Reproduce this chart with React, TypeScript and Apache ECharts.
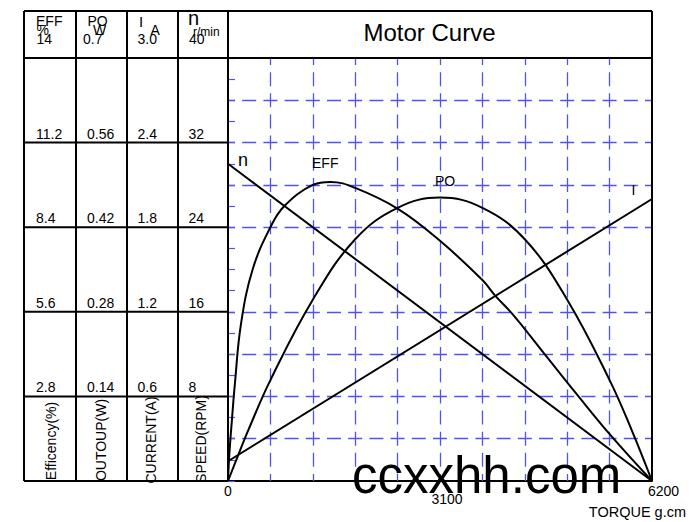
import React, { useEffect, useRef } from 'react';
import * as echarts from 'echarts';

// ---- data ----
const torqueMin = 0;
const torqueMax = 6200;
const torqueStep = 620;
const xLabelValues = [0, 3100, 6200];

const speedMax = 40;
const effMax = 14;
const poMax = 0.7;
const curMax = 3.0;

// tick labels shown in the left table (top to bottom)
const effTicks = ['11.2', '8.4', '5.6', '2.8'];
const poTicks = ['0.56', '0.42', '0.28', '0.14'];
const curTicks = ['2.4', '1.8', '1.2', '0.6'];
const speedTicks = ['32', '24', '16', '8'];

// curves: [torque g.cm, value]
const speedData = [[0, 30], [6200, 0]];
const currentData = [[0, 0.14], [6200, 2.0]];
const effData = [
  [0, 0], [20, 0.9], [60, 2.1], [100, 3.2], [190, 5.2], [360, 7.0], [620, 8.4],
  [824, 9.1], [1240, 9.8], [1500, 9.9], [1860, 9.7], [2490, 9.0], [3100, 7.95],
  [3720, 6.65], [3920, 6.1], [4170, 5.5], [4630, 4.2], [5090, 2.9], [5600, 1.5], [6200, 0],
];
const poData = [
  [0, 0], [150, 0.043], [300, 0.085], [620, 0.167], [1240, 0.30], [1860, 0.40],
  [2480, 0.452], [3100, 0.469], [3720, 0.452], [4340, 0.40], [4960, 0.30],
  [5580, 0.167], [5900, 0.085], [6200, 0],
];

// grid lines (torque / speed axis values); the speed 20 line is absent in the reference
const vGrid = [620, 1240, 1860, 2480, 3100, 3720, 4340, 4960, 5580];
const hGrid = [4, 8, 12, 16, 24, 28, 32, 36];

const FONT = '"Liberation Sans", Arial, Helvetica, sans-serif';
const BLUE = '#5252ee';

export default function App() {
  const ref = useRef<HTMLDivElement>(null);

  useEffect(() => {
    if (!ref.current) return;
    const chart = echarts.init(ref.current, undefined, { renderer: 'svg' });

    const L = 24, T = 11, R = 652, PT = 58, PB = 481, PL = 228;
    const cols = [24, 76, 127, 178, 228];
    const rowYs = [1, 2, 3, 4].map((k) => PT + ((PB - PT) * k) / 5);

    const line = (x1: number, y1: number, x2: number, y2: number, w = 2) => ({
      type: 'line',
      shape: { x1, y1, x2, y2 },
      style: { stroke: '#000', lineWidth: w },
      z: 10,
      silent: true,
    });
    const txt = (
      text: string,
      x: number,
      y: number,
      size = 14,
      align = 'left',
      rotation = 0
    ) => ({
      type: 'text',
      x,
      y,
      rotation,
      z: 11,
      silent: true,
      style: {
        text,
        fill: '#000',
        font: `${size}px ${FONT}`,
        align,
        verticalAlign: 'middle',
      },
    });
    // stacked header cell: one multi-line rich text
    const tok = (size: number, lh: number, padLeft: number) => ({
      fontSize: size,
      fontFamily: FONT,
      color: '#000',
      lineHeight: lh,
      padding: [0, 0, 0, padLeft],
    });
    const stack = (x: number, y: number, text: string, rich: any) => ({
      type: 'text',
      x,
      y,
      z: 11,
      silent: true,
      style: { text, rich, align: 'left', verticalAlign: 'top', fill: '#000' },
    });

    const graphic: any[] = [];
    // borders
    graphic.push(line(L, T, R, T));
    graphic.push(line(L, PT, R, PT));
    graphic.push(line(R, T, R, PB));
    graphic.push(line(L, T, L, PB));
    cols.slice(1).forEach((x) => graphic.push(line(x, T, x, PB)));
    rowYs.forEach((y) => graphic.push(line(L, y, PL, y)));
    graphic.push(line(L, PB, PL, PB));

    // header cells
    graphic.push(
      stack(36, 16.8, `{a|EFF}\n{b|%}\n{b|${effMax}}`, { a: tok(14, 9, 0), b: tok(14, 9, 0.5) })
    );
    graphic.push(
      stack(83, 16.8, `{a|PO}\n{b|W}\n{c|${poMax}}`, {
        a: tok(14, 9, 4.5),
        b: tok(14, 9, 10),
        c: tok(14, 9, 0),
      })
    );
    graphic.push(
      stack(137.5, 16.6, `{a|I}\n{b|A}\n{c|${curMax.toFixed(1)}}`, {
        a: tok(15, 9, 1.5),
        b: tok(14, 9, 13),
        c: tok(14, 9, 0),
      })
    );
    graphic.push(
      stack(188, 8.6, `{a|n}\n{b|r/min}\n{c|${speedMax}}`, {
        a: tok(20, 19.6, 0),
        b: tok(12, 6.8, 5),
        c: tok(14, 9, 1),
      })
    );

    // tick labels in rows
    rowYs.forEach((y, i) => {
      graphic.push(txt(effTicks[i], 36, y - 9));
      graphic.push(txt(poTicks[i], 87, y - 9));
      graphic.push(txt(curTicks[i], 137.5, y - 9));
      graphic.push(txt(speedTicks[i], 188.5, y - 9));
    });

    // rotated names
    const rot = Math.PI / 2;
    graphic.push(txt('Efficency(%)', 51, 441, 14, 'center', rot));
    graphic.push(txt('OUTOUP(W)', 101, 440, 14, 'center', rot));
    graphic.push(txt('CURRENT(A)', 151, 440, 14, 'center', rot));
    graphic.push(txt('SPEED(RPM)', 201, 439, 14, 'center', rot));

    // title
    graphic.push(txt('Motor Curve', 429.5, 32.5, 24, 'center'));

    // curve labels
    graphic.push(txt('n', 238, 159.5, 18));
    graphic.push(txt('EFF', 312, 162.5, 14));
    graphic.push(txt('PO', 435, 180.5, 14));
    graphic.push(txt('I', 631.5, 189.5, 14));

    // axis name
    graphic.push(txt('TORQUE g.cm', 686, 511.5, 14.5, 'right'));

    // watermark
    graphic.push({
      type: 'text',
      x: 352,
      y: 475.5,
      z: 20,
      silent: true,
      style: {
        text: 'ccxxhh.com',
        fill: '#000',
        font: `51px ${FONT}`,
        align: 'left',
        verticalAlign: 'middle',
      },
    });

    const hStyle = { color: BLUE, width: 1.3, type: [14, 7.2], dashOffset: 7 };
    const vStyle = { color: BLUE, width: 1.3, type: [14, 7.15], dashOffset: 7 };

    const curveLine = { color: '#000', width: 2 };

    const option: any = {
      animation: false,
      backgroundColor: '#fff',
      grid: { left: PL, top: PT, right: 700 - R, bottom: 522 - PB, containLabel: false },
      xAxis: {
        type: 'value',
        min: torqueMin,
        max: torqueMax,
        interval: torqueStep,
        axisLine: { show: true, onZero: false, lineStyle: { color: '#000', width: 2 } },
        axisTick: { show: false },
        splitLine: { show: false },
        axisLabel: {
          customValues: xLabelValues,
          showMinLabel: true,
          showMaxLabel: true,
          margin: 3,
          color: '#000',
          fontSize: 14,
          fontFamily: FONT,
          formatter: (v: number) =>
            v === 0 ? '{a|0}' : v === 3100 ? '{b|3100}' : '{c|' + v + '}',
          rich: {
            a: { fontSize: 14, fontFamily: FONT, color: '#000' },
            b: { fontSize: 14, fontFamily: FONT, color: '#000', padding: [8, 0, 0, 14] },
            c: { fontSize: 14, fontFamily: FONT, color: '#000', padding: [0, 0, 0, 23] },
          },
        },
      },
      yAxis: [
        {
          type: 'value',
          min: 0,
          max: speedMax,
          interval: 2,
          position: 'left',
          axisLine: { show: true, lineStyle: { color: '#000', width: 2 } },
          axisTick: { show: true, inside: true, length: 7, lineStyle: { color: BLUE, width: 1.2 } },
          axisLabel: { show: false },
          splitLine: { show: false },
        },
        { type: 'value', min: 0, max: effMax, show: false, splitLine: { show: false } },
        { type: 'value', min: 0, max: poMax, show: false, splitLine: { show: false } },
        { type: 'value', min: 0, max: curMax, show: false, splitLine: { show: false } },
      ],
      series: [
        {
          name: 'n',
          type: 'line',
          yAxisIndex: 0,
          data: speedData,
          symbol: 'none',
          z: 3,
          lineStyle: curveLine,
          markLine: {
            silent: true,
            z: 1,
            symbol: ['none', 'none'],
            label: { show: false },
            emphasis: { disabled: true },
            data: [
              ...vGrid.map((v) => ({ xAxis: v, lineStyle: vStyle })),
              ...hGrid.map((v) => ({ yAxis: v, lineStyle: hStyle })),
            ],
          },
        },
        {
          name: 'EFF',
          type: 'line',
          yAxisIndex: 1,
          data: effData,
          symbol: 'none',
          smooth: 0.4,
          z: 3,
          lineStyle: curveLine,
        },
        {
          name: 'PO',
          type: 'line',
          yAxisIndex: 2,
          data: poData,
          symbol: 'none',
          smooth: 0.4,
          z: 3,
          lineStyle: curveLine,
        },
        {
          name: 'I',
          type: 'line',
          yAxisIndex: 3,
          data: currentData,
          symbol: 'none',
          z: 3,
          lineStyle: curveLine,
        },
      ],
      graphic,
    };

    chart.setOption(option);
    return () => chart.dispose();
  }, []);

  return (
    <div
      ref={ref}
      style={{ position: 'fixed', left: 0, top: 0, width: 700, height: 522, background: '#fff' }}
    />
  );
}
